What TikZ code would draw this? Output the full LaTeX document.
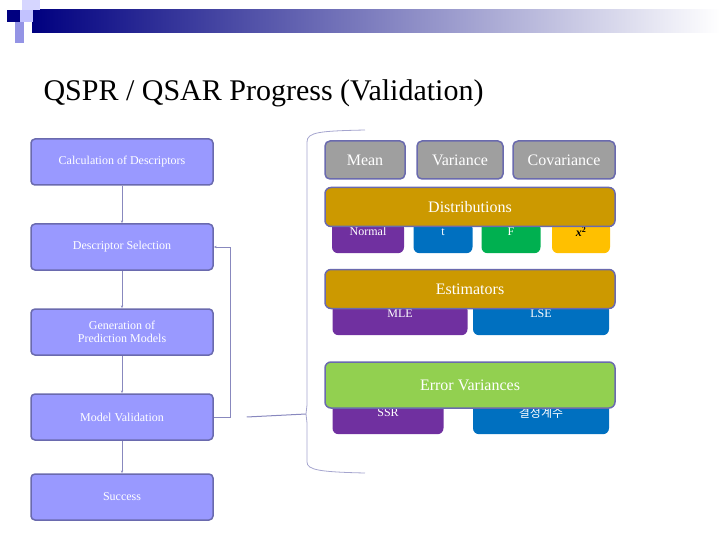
\documentclass[tikz,border=0pt]{standalone}
\usepackage{fontspec}
\setmainfont{Liberation Serif}
\newfontfamily\kofont{Noto Sans CJK KR}
\usetikzlibrary{positioning, arrows.meta}
\definecolor{stepfill}{HTML}{9999FF}
\definecolor{stepline}{HTML}{6A6AAE}
\definecolor{headgold}{HTML}{CC9900}
\definecolor{headgreen}{HTML}{92D050}
\definecolor{subpurple}{HTML}{7030A0}
\definecolor{subblue}{HTML}{0070C0}
\definecolor{subgreen}{HTML}{00B050}
\definecolor{subyellow}{HTML}{FFC000}
\tikzset{
    stage/.style={draw=stepline, line width=1.5pt, fill=stepfill, rounded corners=4pt,
        minimum width=182pt, minimum height=46pt, text=white, font=\fontsize{12}{13}\selectfont, align=center},
    stat/.style={draw=stepline, line width=1.5pt, fill=gray!75, rounded corners=5pt,
        minimum height=38pt, text=white, font=\fontsize{16}{18}\selectfont},
    head/.style={draw=stepline, line width=1.5pt, fill=headgold, rounded corners=6pt,
        minimum width=290pt, minimum height=39pt, text=white, font=\fontsize{16}{18}\selectfont},
    sub/.style={rounded corners=6pt, minimum height=31pt, text=white, anchor=north,
        font=\fontsize{12}{13}\selectfont, text depth=12pt},
    link/.style={stepline!80, line width=1pt, -{Stealth[length=3pt]}},
}
\begin{document}
\begin{tikzpicture}[x=1pt, y=-1pt]
\useasboundingbox (0,0) rectangle (720,540);
% header bar
\shade[left color=blue!50!black, right color=white] (32,10) rectangle (720,33);
\fill[stepfill!40] (22,0) rectangle (40,10);
\fill[stepfill!60] (15,10) rectangle (33,22);
\fill[blue!50!black] (7,10) rectangle (20,22);
\fill[stepfill!80!gray] (15,22) rectangle (24,43);
\node[anchor=west, font=\fontsize{30}{32}\selectfont] (title) at (40,93) {QSPR / QSAR Progress (Validation)};
% workflow
\node[stage] (calc) at (122,162) {Calculation of Descriptors};
\node[stage] (select) at (122,247) {Descriptor Selection};
\node[stage] (gen) at (122,332) {Generation of\\Prediction Models};
\node[stage] (valid) at (122,417) {Model Validation};
\node[stage] (success) at (122,497) {Success};
\draw[link] (calc) -- (select);
\draw[link] (select) -- (gen);
\draw[link] (gen) -- (valid);
\draw[link] (valid) -- (success);
\draw[link] (valid.east) -- ++(17,0) |- (select.east);
% brace
\coordinate (tip) at (306,414);
\draw[link, -] (valid.east) ++(33,0) -- (tip);
\draw[stepline!60, line width=0.8pt] (365,130) .. controls (320,131) and (307,132) .. (307,142)
    -- (307,405) .. controls (307,410) .. (tip) .. controls (307,418) .. (307,423)
    -- (307,462) .. controls (307,470) and (320,472) .. (365,473);
% statistics
\node[stat, minimum width=80pt] (mean) at (365,160) {Mean};
\node[stat, minimum width=86pt] (var) at (460,160) {Variance};
\node[stat, minimum width=102pt] (cov) at (564,160) {Covariance};
\node[sub, fill=subpurple, minimum width=72pt] (normal) at (368,222) {Normal};
\node[sub, fill=subblue, minimum width=59pt] (tdist) at (443,222) {t};
\node[sub, fill=subgreen, minimum width=59pt] (fdist) at (511,222) {F};
\node[sub, fill=subyellow, minimum width=58pt, text=black] (chi) at (581,222) {\bfseries\itshape x$^{\mathbf{2}}$};
\node[head] (dist) at (470,207) {Distributions};
\node[sub, fill=subpurple, minimum width=135pt] (mle) at (400,304) {MLE};
\node[sub, fill=subblue, minimum width=136pt] (lse) at (541,304) {LSE};
\node[head] (est) at (470,289) {Estimators};
\node[sub, fill=subpurple, minimum width=111pt] (ssr) at (388,403) {SSR};
\node[sub, fill=subblue, minimum width=136pt, font=\kofont\fontsize{12}{13}\selectfont] (coef) at (541,403) {결정계수};
\node[head, fill=headgreen, minimum height=46pt] (err) at (470,385) {Error Variances};
\end{tikzpicture}
\end{document}
